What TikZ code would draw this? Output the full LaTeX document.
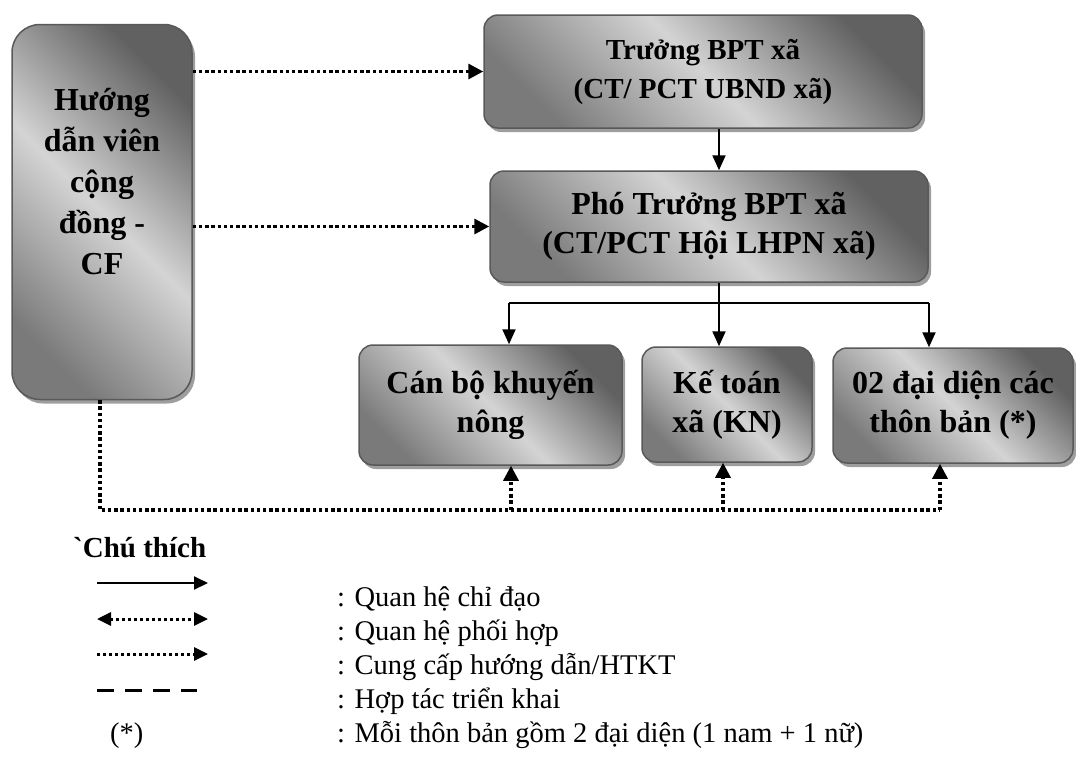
\documentclass[tikz,border=0pt]{standalone}
\usepackage{fontspec}
\setmainfont{Liberation Serif}
\newfontfamily\plainrm{Liberation Serif}
\usetikzlibrary{arrows.meta,shadows,calc}

\tikzset{
  box/.style={draw=black!65, line width=1.5pt, rounded corners=14pt,
    top color=black!62, bottom color=black!52, middle color=black!17, shading angle=-45,
    drop shadow={shadow xshift=3pt, shadow yshift=-4pt, fill=black!38, opacity=1},
    align=center, inner sep=0pt, font=\bfseries\fontsize{32}{39}\selectfont},
  boxtext/.style={align=center, inner sep=0pt, font=\bfseries\fontsize{32}{41}\selectfont},
  legtext/.style={anchor=base west, inner sep=0pt, font=\fontsize{28.5}{34}\selectfont},
  chidao/.style={line width=2pt, -{Triangle[length=15pt,width=13pt]}},
  bus/.style={line width=2pt},
  huongdan/.style={line width=3.2pt, dash pattern=on 3.4pt off 2.8pt, -{Triangle[length=15pt,width=15pt]}},
  dotline/.style={line width=3.2pt, dash pattern=on 3.4pt off 2.8pt},
}

\begin{document}
\begin{tikzpicture}[x=1pt,y=-1pt]
\useasboundingbox (0,0) rectangle (1076,756);

% cac khoi
\node[box, rounded corners=28pt, minimum width=180pt, minimum height=375pt] (cf) at (102,212) {};
\node[boxtext] (cftext) at (102,182) {Hướng\\dẫn viên\\cộng\\đồng -\\CF};
\node[box, font=\bfseries\fontsize{29}{39}\selectfont, minimum width=438pt, minimum height=113pt] (truong) at (703,71.5) {Trưởng BPT xã\\(CT/ PCT UBND xã)};
\node[box, minimum width=438pt, minimum height=111pt] (pho) at (709,226.5) {Phó Trưởng BPT xã\\(CT/PCT Hội LHPN xã)};
\node[box, minimum width=263pt, minimum height=120pt] (canbo) at (490.5,405) {Cán bộ khuyến\\nông};
\node[box, minimum width=170pt, minimum height=115pt] (ketoan) at (727,404.5) {Kế toán\\xã (KN)};
\node[box, minimum width=240pt, minimum height=115pt] (daidien) at (953,405.5) {02 đại diện các\\thôn bản (*)};

% quan he chi dao
\coordinate (t1) at (509,303);
\coordinate (t2) at (719,303);
\coordinate (t3) at (929,303);
\draw[chidao] (truong.south -| t2) -- (pho.north -| t2);
\draw[bus] (pho.south -| t2) -- (t2);
\draw[bus] (t1) -- (t3);
\draw[chidao] (t1) -- (t1 |- canbo.north);
\draw[chidao] (t2) -- (t2 |- ketoan.north);
\draw[chidao] (t3) -- (t3 |- daidien.north);

% cung cap huong dan
\draw[huongdan] (cf.east |- truong.west) -- (truong.west);
\draw[huongdan] (cf.east |- pho.west) -- (pho.west);
\coordinate (d1) at (511,510);
\coordinate (d2) at (723,510);
\coordinate (d3) at (940,510);
\draw[dotline] ([xshift=-2pt]cf.south) |- (d3);
\draw[huongdan] (d1) -- (d1 |- canbo.south);
\draw[huongdan] (d2) -- (d2 |- ketoan.south);
\draw[huongdan] (d3) -- (d3 |- daidien.south);

% chu thich
\node[legtext, font=\bfseries\fontsize{29}{34}\selectfont] (chuthich) at (73,557) {{\plainrm`}Chú thích};
\draw[line width=2pt, -{Triangle[length=14pt,width=13pt]}] (97,583) -- (208,583);
\draw[line width=3pt, dash pattern=on 3pt off 3pt, {Triangle[length=14pt,width=13pt]}-{Triangle[length=14pt,width=13pt]}] (97,619) -- (208,619);
\draw[line width=3pt, dash pattern=on 3pt off 3pt, -{Triangle[length=14pt,width=13pt]}] (97,654) -- (208,654);
\draw[line width=3pt, dash pattern=on 17pt off 11pt] (97,690) -- (197,690);
\node[legtext] (sao) at (110,742) {(*)};
\node[legtext] (l1) at (337,606) {: Quan hệ chỉ đạo};
\node[legtext] (l2) at (337,640) {: Quan hệ phối hợp};
\node[legtext] (l3) at (337,674) {: Cung cấp hướng dẫn/HTKT};
\node[legtext] (l4) at (337,708) {: Hợp tác triển khai};
\node[legtext] (l5) at (337,742) {: Mỗi thôn bản gồm 2 đại diện (1 nam + 1 nữ)};

\end{tikzpicture}
\end{document}
